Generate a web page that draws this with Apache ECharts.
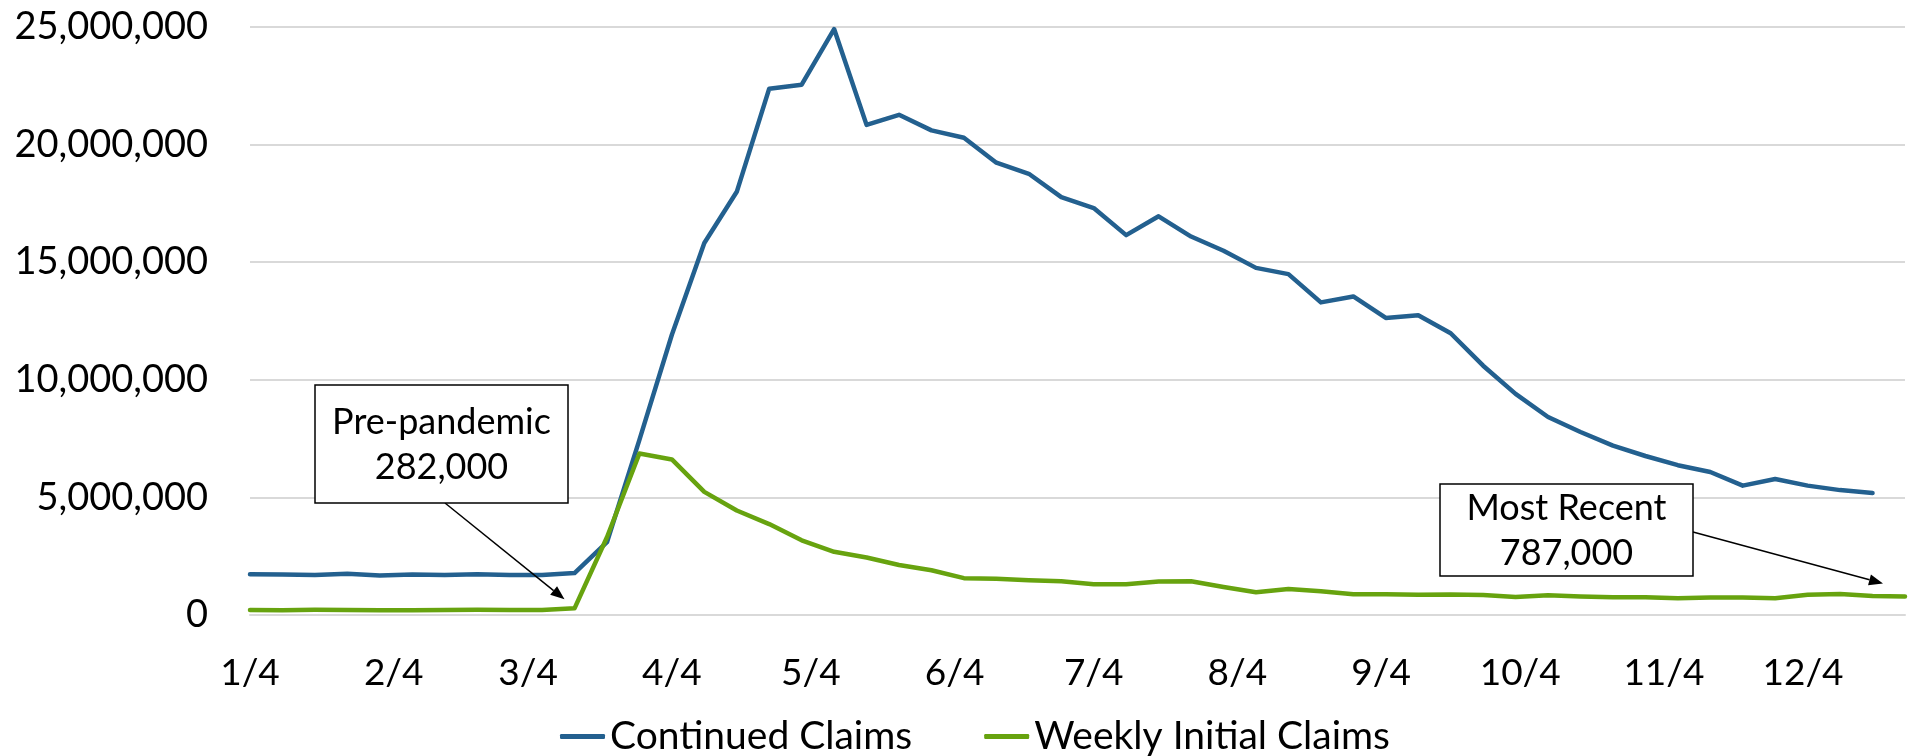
<!DOCTYPE html>
<html>
<head>
<meta charset="utf-8">
<script src="https://cdn.jsdelivr.net/npm/echarts@6/dist/echarts.min.js"></script>
<style>
  html, body { margin: 0; padding: 0; background: #fff; }
  #chart { width: 1912px; height: 756px; }
</style>
</head>
<body>
<div id="chart"></div>
<script>
// week ending dates, 2020
var weeks = ['1/4','1/11','1/18','1/25','2/1','2/8','2/15','2/22','2/29','3/7','3/14','3/21','3/28',
  '4/4','4/11','4/18','4/25','5/2','5/9','5/16','5/23','5/30','6/6','6/13','6/20','6/27',
  '7/4','7/11','7/18','7/25','8/1','8/8','8/15','8/22','8/29','9/5','9/12','9/19','9/26',
  '10/3','10/10','10/17','10/24','10/31','11/7','11/14','11/21','11/28','12/5','12/12','12/19','12/26'];

var continuedClaims = [1735000,1718000,1703000,1750000,1682000,1726000,1703000,1730000,1700000,1701000,1784000,
  3094000,7446000,11914000,15819000,17992000,22377000,22548000,24912000,20838000,21268000,20606000,
  20289000,19231000,18760000,17764000,17304000,16151000,16951000,16090000,15486000,14759000,14493000,
  13292000,13544000,12628000,12747000,11979000,10600000,9400000,8420000,7780000,7200000,6760000,
  6370000,6080000,5500000,5780000,5500000,5310000,5190000,null];

var initialClaims = [214000,207000,220000,212000,203000,206000,215000,220000,217000,211000,282000,
  3307000,6867000,6615000,5237000,4442000,3867000,3176000,2687000,2446000,2126000,1901000,
  1566000,1540000,1482000,1435000,1310000,1309000,1422000,1435000,1191000,971000,1106000,
  1011000,881000,884000,866000,873000,849000,767000,840000,791000,751000,751000,711000,
  748000,740000,716000,862000,892000,806000,787000];

var tickLabels = ['1/4','2/4','3/4','4/4','5/4','6/4','7/4','8/4','9/4','10/4','11/4','12/4'];

var seriesNames = ['Continued Claims', 'Weekly Initial Claims'];
var notes = [
  { text: 'Pre-pandemic\n282,000', week: '3/14' },
  { text: 'Most Recent\n787,000', week: '12/26' }
];

var FONT = 'Lato';
var DAY = 86400000;
var start = new Date(2020, 0, 4).getTime();

// x position = days since 1/4/2020
function day(s) {
  var p = s.split('/');
  return Math.round((new Date(2020, +p[0] - 1, +p[1]).getTime() - start) / DAY);
}
function label(v) {
  var d = new Date(start + v * DAY);
  return (d.getMonth() + 1) + '/' + d.getDate();
}

var chart = echarts.init(document.getElementById('chart'));

var option = {
  animation: false,
  backgroundColor: '#fff',
  grid: { left: 250, right: 7, top: 27, bottom: 141 },
  legend: {
    left: 555,
    top: 712,
    icon: 'roundRect',
    itemWidth: 45,
    itemHeight: 5,
    itemGap: 72,
    textStyle: { fontFamily: FONT, fontSize: 39, color: '#000' },
    data: seriesNames
  },
  xAxis: {
    type: 'value',
    min: 0,
    max: day(weeks[weeks.length - 1]),
    axisLine: { show: true, lineStyle: { color: '#d9d9d9', width: 2 } },
    axisTick: { show: false },
    splitLine: { show: false },
    axisLabel: {
      customValues: tickLabels.map(day),
      formatter: function (v) { return label(v); },
      fontFamily: FONT,
      fontSize: 37,
      color: '#000',
      margin: 40
    }
  },
  yAxis: {
    type: 'value',
    min: 0,
    max: 25000000,
    interval: 5000000,
    axisLine: { show: false },
    axisTick: { show: false },
    splitLine: { lineStyle: { color: '#d9d9d9', width: 2 } },
    axisLabel: {
      formatter: function (v) { return echarts.format.addCommas(v); },
      fontFamily: FONT,
      fontSize: 38,
      color: '#000',
      margin: 42
    }
  },
  series: [
    {
      name: seriesNames[0],
      type: 'line',
      symbol: 'none',
      data: weeks.map(function (w, i) { return [day(w), continuedClaims[i]]; }),
      itemStyle: { color: '#23608f' },
      lineStyle: { color: '#23608f', width: 4.5, join: 'round', cap: 'round' }
    },
    {
      name: seriesNames[1],
      type: 'line',
      symbol: 'none',
      data: weeks.map(function (w, i) { return [day(w), initialClaims[i]]; }),
      itemStyle: { color: '#67a30f' },
      lineStyle: { color: '#67a30f', width: 4.5, join: 'round', cap: 'round' }
    }
  ]
};
chart.setOption(option);

// annotation boxes with arrows pointing at the initial claims series
var boxes = [
  { x: 315, y: 385, w: 253, h: 118, from: [445, 503], off: [-10, -9] },
  { x: 1440, y: 484, w: 253, h: 92, from: [1693, 532], off: [-22, -13] }
];
var graphics = [];
notes.forEach(function (n, k) {
  var b = boxes[k];
  var i = weeks.indexOf(n.week);
  var p = chart.convertToPixel({ gridIndex: 0 }, [day(n.week), initialClaims[i]]);
  var tip = [p[0] + b.off[0], p[1] + b.off[1]];
  var dx = tip[0] - b.from[0], dy = tip[1] - b.from[1];
  var len = Math.sqrt(dx * dx + dy * dy);
  var ux = dx / len, uy = dy / len;
  var back = [tip[0] - ux * 14, tip[1] - uy * 14];
  graphics.push({
    type: 'line', z: 100,
    shape: { x1: b.from[0], y1: b.from[1], x2: back[0], y2: back[1] },
    style: { stroke: '#000', lineWidth: 1.5 }
  });
  graphics.push({
    type: 'polygon', z: 100,
    shape: { points: [tip, [back[0] - uy * 5.5, back[1] + ux * 5.5], [back[0] + uy * 5.5, back[1] - ux * 5.5]] },
    style: { fill: '#000' }
  });
  graphics.push({
    type: 'rect', z: 100,
    shape: { x: b.x, y: b.y, width: b.w, height: b.h },
    style: { fill: '#fff', stroke: '#000', lineWidth: 1.5 }
  });
  graphics.push({
    type: 'text', z: 101,
    x: b.x + b.w / 2, y: b.y + b.h / 2 + 1,
    style: {
      text: n.text, fontFamily: FONT, fontSize: 36, lineHeight: 45,
      fill: '#000', align: 'center', verticalAlign: 'middle'
    }
  });
});
chart.setOption({ graphic: graphics });
</script>
</body>
</html>
